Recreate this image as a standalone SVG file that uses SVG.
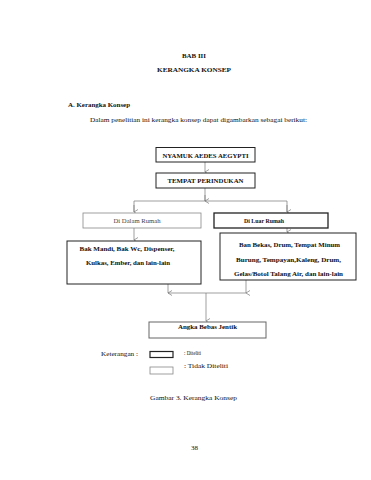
<svg xmlns="http://www.w3.org/2000/svg" width="371" height="480" viewBox="0 0 371 480">
<defs>
<style>
text{font-family:"Liberation Serif","Times New Roman",serif;fill:#111;}
.b{font-weight:bold;}
.t{font-size:7px;}
.c{text-anchor:middle;}
.box{fill:#fff;stroke:#222;stroke-width:1;}
.lbox{fill:#fff;stroke:#888;stroke-width:0.8;}
.ln{fill:none;stroke:#777;stroke-width:0.7;}
</style>
<marker id="ah" markerWidth="6" markerHeight="6" refX="3" refY="5" orient="auto-start-reverse" markerUnits="userSpaceOnUse" viewBox="0 0 6 6">
<polyline points="0.5,1 3,5 5.5,1" fill="none" stroke="#777" stroke-width="0.7"/>
</marker>
</defs>
<rect width="371" height="480" fill="#fff"/>
<text class="b c t" x="194" y="57.5" textLength="24" lengthAdjust="spacingAndGlyphs">BAB III</text>
<text class="b c t" x="194" y="72" textLength="74" lengthAdjust="spacingAndGlyphs">KERANGKA KONSEP</text>
<text class="b t" x="68" y="107" textLength="62" lengthAdjust="spacingAndGlyphs">A. Kerangka Konsep</text>
<text class="t" x="90" y="122" textLength="217" lengthAdjust="spacingAndGlyphs">Dalam penelitian ini kerangka konsep dapat digambarkan sebagai berikut:</text>

<g id="connectors">
<line class="ln" x1="205" y1="162" x2="205" y2="172" marker-end="url(#ah)"/>
<polyline class="ln" points="205,188 205,201"/>
<polyline class="ln" points="134,212 134,201 287,201 287,212"/>
<line class="ln" x1="205" y1="195" x2="205" y2="201" marker-end="url(#ah)"/>
<line class="ln" x1="134" y1="205" x2="134" y2="212" marker-end="url(#ah)"/>
<line class="ln" x1="287" y1="205" x2="287" y2="212" marker-end="url(#ah)"/>
<line class="ln" x1="134" y1="228" x2="134" y2="240" marker-end="url(#ah)"/>
<line class="ln" x1="287" y1="228" x2="287" y2="232" marker-end="url(#ah)"/>
<line class="ln" x1="168" y1="284" x2="168" y2="293" marker-end="url(#ah)"/>
<line class="ln" x1="246" y1="280" x2="246" y2="293" marker-end="url(#ah)"/>
<line class="ln" x1="168" y1="293" x2="246" y2="293"/>
<line class="ln" x1="206" y1="293" x2="206" y2="321" marker-end="url(#ah)"/>
</g>

<g id="n1">
<rect class="box" x="156" y="147.5" width="99" height="14.5"/>
<text class="b c t" x="205.5" y="157.5" textLength="86" lengthAdjust="spacingAndGlyphs">NYAMUK AEDES AEGYPTI</text>
</g>
<g id="n2">
<rect class="box" x="156" y="173" width="99" height="15"/>
<text class="b c t" x="205.5" y="183" textLength="76" lengthAdjust="spacingAndGlyphs">TEMPAT PERINDUKAN</text>
</g>
<g id="n3">
<rect class="lbox" x="83" y="213" width="118" height="15"/>
<text class="c t" x="137" y="222.5" style="fill:#444" textLength="47" lengthAdjust="spacingAndGlyphs">Di Dalam Rumah</text>
</g>
<g id="n4">
<rect class="box" x="214" y="213" width="114" height="15" style="stroke-width:1.3"/>
<text class="b c t" x="264" y="222.5" textLength="40" lengthAdjust="spacingAndGlyphs">Di Luar Rumah</text>
</g>
<g id="n5">
<rect class="box" x="67" y="241" width="134" height="43"/>
<text class="b c t" x="127" y="250.5" textLength="95" lengthAdjust="spacingAndGlyphs">Bak Mandi, Bak Wc, Dispenser,</text>
<text class="b c t" x="128" y="264.5" textLength="84" lengthAdjust="spacingAndGlyphs">Kulkas, Ember, dan lain-lain</text>
</g>
<g id="n6">
<rect class="box" x="220" y="233" width="136" height="47"/>
<text class="b c t" x="289.5" y="247" textLength="101" lengthAdjust="spacingAndGlyphs">Ban Bekas, Drum, Tempat Minum</text>
<text class="b c t" x="288.5" y="261.5" textLength="105" lengthAdjust="spacingAndGlyphs">Burung, Tempayan,Kaleng, Drum,</text>
<text class="b c t" x="288.5" y="275.5" textLength="109" lengthAdjust="spacingAndGlyphs">Gelas/Botol Talang Air, dan lain-lain</text>
</g>
<g id="n7">
<rect class="box" x="149" y="322" width="117" height="16" style="stroke:#666"/>
<text class="b c t" x="207.5" y="328.8" textLength="59" lengthAdjust="spacingAndGlyphs">Angka Bebas Jentik</text>
</g>

<g id="legend">
<text class="t" x="101" y="356" textLength="37" lengthAdjust="spacingAndGlyphs">Keterangan :</text>
<rect class="box" x="150" y="351.5" width="23" height="6" style="stroke-width:1.2"/>
<rect class="lbox" x="150" y="367" width="23" height="7"/>
<text class="t" x="184" y="355" textLength="17" lengthAdjust="spacingAndGlyphs">: Diteliti</text>
<text class="t" x="184" y="367.5" textLength="44" lengthAdjust="spacingAndGlyphs">: Tidak Diteliti</text>
</g>
<text class="t" x="150" y="399.5" textLength="87" lengthAdjust="spacingAndGlyphs">Gambar 3. Kerangka  Konsep</text>
<text class="t c" x="194.5" y="449.5">38</text>
</svg>
